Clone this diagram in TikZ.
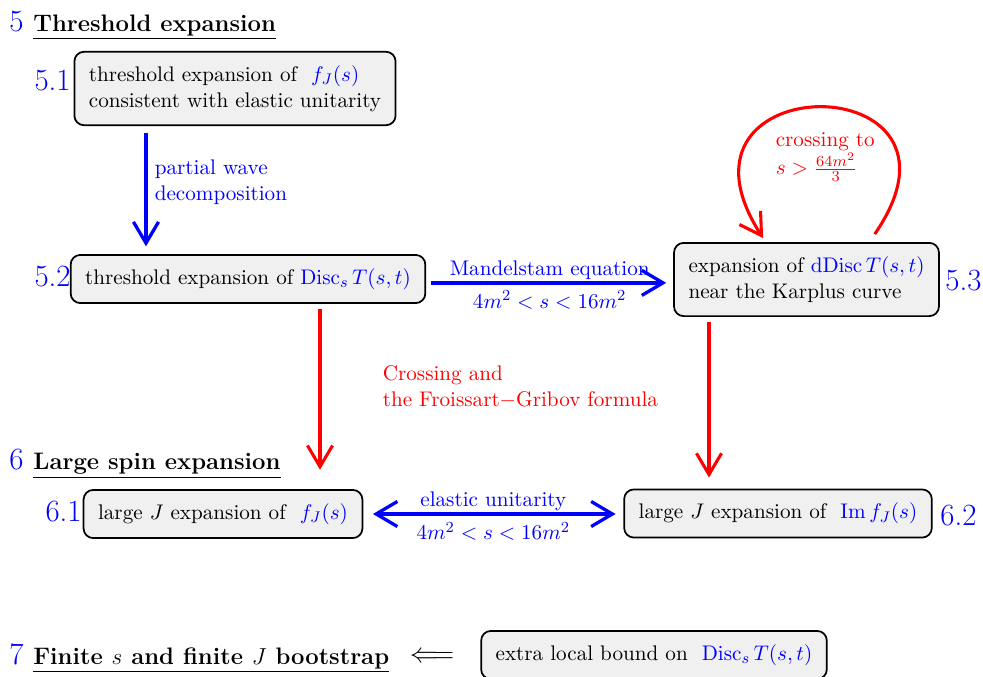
\documentclass[tikz,border=0pt]{standalone}
\usepackage{amsmath}
\usepackage{amsfonts}
\usepackage{tikz}
\usetikzlibrary{arrows.meta}
\DeclareMathOperator{\Disc}{Disc}
\DeclareMathOperator{\dDisc}{dDisc}
\newcommand{\txtsize}{\fontsize{10.95}{13.6}\selectfont}
\newcommand{\headsize}{\fontsize{12.35}{14.8}\selectfont}
\newcommand{\numsize}{\fontsize{16}{19}\selectfont}

\begin{document}
\begin{tikzpicture}[
x=0.518pt, y=-0.518pt,
every node/.style={font=\txtsize},
stepbox/.style={rectangle, rounded corners=5pt, draw=black, line width=0.9pt, fill=black!6, align=left, inner xsep=7.5pt, inner ysep=7pt},
numlabel/.style={text=blue, font=\numsize, inner sep=0pt},
heading/.style={font=\headsize\bfseries, inner sep=0pt},
bluearrow/.style={draw=blue, line width=1.7pt, -{Straight Barb[length=11pt,width=13pt]}},
bluedouble/.style={draw=blue, line width=1.7pt, {Straight Barb[length=11pt,width=13pt]}-{Straight Barb[length=11pt,width=13pt]}},
redarrow/.style={draw=red, line width=1.6pt, -{Straight Barb[length=11pt,width=13pt]}},
bluelabel/.style={text=blue, align=left},
redlabel/.style={text=red, align=left},
]
\useasboundingbox (0,0) rectangle (983,677);

%Headings
\node[numlabel, anchor=base west]   (n5)   at (9,31)   {5};
\node[heading, anchor=base west]    (h5)   at (33,31)  {\underline{Threshold expansion}};
\node[numlabel, anchor=base west]   (n6)   at (9,469)  {6};
\node[heading, anchor=base west]    (h6)   at (33,469) {\underline{Large spin expansion}};
\node[numlabel, anchor=base west]   (n7)   at (9,664)  {7};
\node[heading, anchor=base west]    (h7)   at (33,664) {\underline{Finite $s$ and finite $J$ bootstrap}};
\node[font=\fontsize{15.5}{18}\selectfont, inner sep=0pt] (imp) at (432,657) {$\Longleftarrow$};

%Nodes
\node[stepbox]  (b51)  at (235,88.5)  {threshold expansion of \ \textcolor{blue}{$f_J(s)$}\\consistent with elastic unitarity};
\node[stepbox]  (b52)  at (248,279)   {threshold expansion of \textcolor{blue}{$\Disc_s T(s,t)$}};
\node[stepbox]  (b53)  at (806.5,279.5) {expansion of \textcolor{blue}{$\dDisc T(s,t)$}\\near the Karplus curve};
\node[stepbox]  (b61)  at (223,514)   {large $J$ expansion of \ \textcolor{blue}{$f_J(s)$}};
\node[stepbox]  (b62)  at (778,513.5) {large $J$ expansion of \ \textcolor{blue}{$\operatorname{Im} f_J(s)$}};
\node[stepbox]  (b7)   at (654,655)   {extra local bound on \ \textcolor{blue}{$\Disc_s T(s,t)$}};

%Numbers
\node[numlabel, anchor=base east]  (n51)  at (71,90)   {5.1};
\node[numlabel, anchor=base east]  (n52)  at (71,286)  {5.2};
\node[numlabel, anchor=base west]  (n53)  at (945,290) {5.3};
\node[numlabel, anchor=base east]  (n61)  at (82,521)  {6.1};
\node[numlabel, anchor=base west]  (n62)  at (940,525) {6.2};

%Labels
\node[bluelabel, anchor=west]  (lpw)  at (148,182) {partial wave\\decomposition};
\node[redlabel, anchor=west]   (lfg)  at (376,387) {Crossing and\\the Froissart$-$Gribov formula};
\node[redlabel, anchor=west]   (lcr)  at (769,157) {crossing to\\[1pt]$s>\frac{64m^2}{3}$};

%Lines
\coordinate (pw)  at (146,0);
\coordinate (cf1) at (320,0);
\coordinate (cf2) at (709,0);
\draw[bluearrow, shorten <=3.5pt, shorten >=4pt] (b51.south -| pw) -- (b52.north -| pw);
\draw[bluearrow, shorten <=2.5pt, shorten >=3.6pt] ([yshift=-2pt]b52.east) -- ([yshift=-2pt]b52.east -| b53.west)
  node[midway, above, bluelabel, inner sep=1pt] {Mandelstam equation}
  node[midway, below, bluelabel] {$4m^2<s<16m^2$};
\draw[redarrow, shorten <=2.6pt, shorten >=10pt] (b52.south -| cf1) -- (b61.north -| cf1);
\draw[redarrow, shorten <=2.6pt, shorten >=5.7pt] (b53.south -| cf2) -- (b62.north -| cf2);
\draw[bluedouble, shorten <=5pt, shorten >=4pt] (b61.east) -- (b61.east -| b62.west)
  node[midway, above, bluelabel, inner sep=1pt] {elastic unitarity}
  node[midway, below, bluelabel] {$4m^2<s<16m^2$};
\draw[redarrow] ([xshift=-33.7pt,yshift=4.1pt]b53.north east) .. controls +(117,-170) and +(-112,-174) .. ([xshift=46.6pt,yshift=2pt]b53.north west);
\end{tikzpicture}
\end{document}
